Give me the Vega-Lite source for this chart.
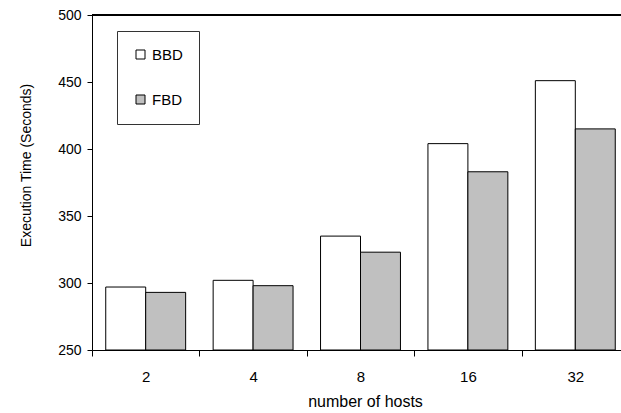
{
  "$schema": "https://vega.github.io/schema/vega-lite/v6.json",
  "width": 529,
  "height": 335,
  "autosize": {"type": "none"},
  "padding": {"left": 92, "top": 15, "right": 0, "bottom": 63},
  "config": {
    "view": {"stroke": null},
    "font": "Liberation Sans",
    "axis": {
      "domainColor": "black",
      "tickColor": "black",
      "labelColor": "black",
      "titleColor": "black",
      "labelFont": "Liberation Sans",
      "titleFont": "Liberation Sans",
      "titleFontWeight": "normal",
      "grid": false
    }
  },
  "data": {
    "values": [
      {"hosts": "2", "series": "BBD", "time": 297},
      {"hosts": "2", "series": "FBD", "time": 293},
      {"hosts": "4", "series": "BBD", "time": 302},
      {"hosts": "4", "series": "FBD", "time": 298},
      {"hosts": "8", "series": "BBD", "time": 335},
      {"hosts": "8", "series": "FBD", "time": 323},
      {"hosts": "16", "series": "BBD", "time": 404},
      {"hosts": "16", "series": "FBD", "time": 383},
      {"hosts": "32", "series": "BBD", "time": 451},
      {"hosts": "32", "series": "FBD", "time": 415}
    ]
  },
  "layer": [
    {
      "mark": {"type": "bar", "stroke": "black", "strokeWidth": 1},
      "encoding": {
        "x": {
          "field": "hosts",
          "type": "ordinal",
          "sort": ["2", "4", "8", "16", "32"],
          "scale": {"range": [0, 537], "paddingInner": 0, "paddingOuter": 0},
          "axis": {
            "title": "number of hosts",
            "labelAngle": 0,
            "tickBand": "extent",
            "tickSize": 6,
            "labelPadding": 13,
            "labelFontSize": 15,
            "titleFontSize": 16,
            "titlePadding": 9,
            "titleX": 273
          }
        },
        "xOffset": {
          "field": "series",
          "type": "nominal",
          "sort": ["BBD", "FBD"],
          "scale": {"paddingOuter": 0.344, "paddingInner": 0}
        },
        "y": {
          "field": "time",
          "type": "quantitative",
          "scale": {"domain": [250, 500], "nice": false, "zero": false},
          "axis": {
            "title": "Execution Time (Seconds)",
            "values": [250, 300, 350, 400, 450, 500],
            "tickSize": 5,
            "labelPadding": 6,
            "labelFontSize": 14,
            "titleFontSize": 14,
            "titlePadding": 24,
            "titleY": 150
          }
        },
        "y2": {"datum": 250},
        "color": {
          "field": "series",
          "type": "nominal",
          "scale": {"domain": ["BBD", "FBD"], "range": ["white", "#c0c0c0"]},
          "legend": {
            "orient": "none",
            "legendX": 25,
            "legendY": 16,
            "title": null,
            "direction": "vertical",
            "symbolType": "square",
            "symbolSize": 81,
            "symbolStrokeColor": "black",
            "symbolStrokeWidth": 1,
            "labelFontSize": 15,
            "labelFont": "Liberation Sans",
            "labelColor": "black",
            "rowPadding": 29,
            "padding": 16,
            "strokeColor": "#333",
            "fillColor": "white"
          }
        }
      }
    },
    {
      "mark": {"type": "rule", "color": "black", "strokeWidth": 1},
      "encoding": {
        "y": {"datum": 500, "type": "quantitative", "scale": {"domain": [250, 500], "nice": false, "zero": false}}
      }
    }
  ]
}
